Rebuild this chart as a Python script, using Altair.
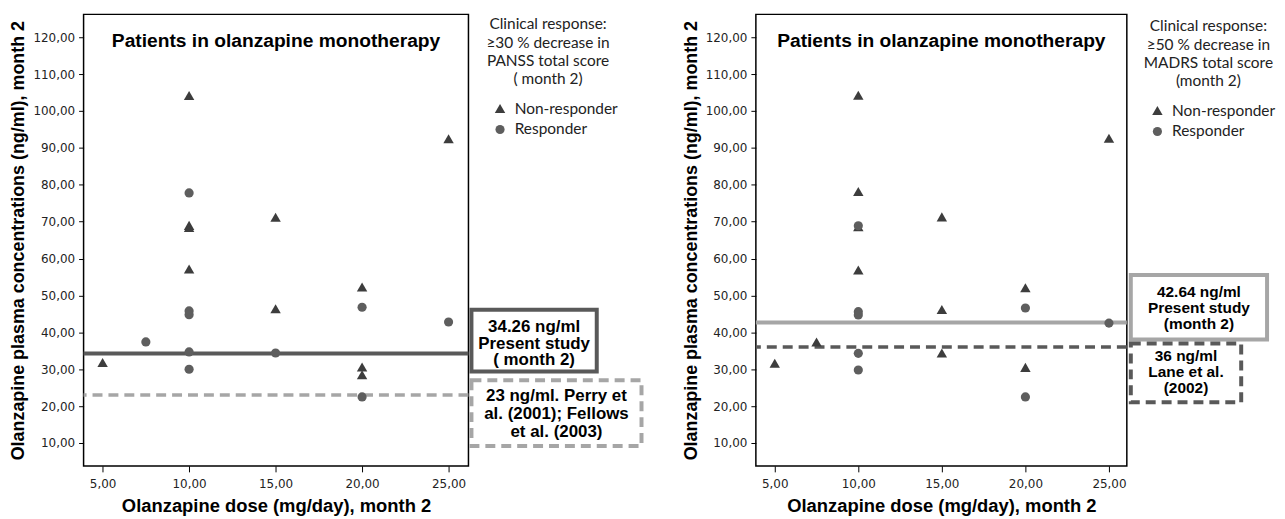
import altair as alt
import pandas as pd

# ---- data ----
responses = ["Non-responder", "Responder"]

left_dose = [5, 10, 10, 10, 10, 15, 15, 20, 20, 20, 25,
             7.5, 10, 10, 10, 10, 10, 15, 20, 20, 25]
left_conc = [31.8, 104.2, 69.0, 68.4, 57.2, 71.2, 46.4, 52.3, 30.6, 28.5, 92.5,
             37.4, 77.8, 45.8, 44.8, 34.7, 30.0, 34.4, 46.8, 22.5, 42.8]
left_resp = ["Non-responder"] * 11 + ["Responder"] * 10

right_dose = [5, 7.5, 10, 10, 10, 10, 15, 15, 15, 20, 20, 25,
              10, 10, 10, 10, 10, 20, 20, 25]
right_conc = [31.6, 37.4, 104.3, 78.2, 68.6, 56.9, 71.3, 46.2, 34.4, 52.1, 30.5, 92.6,
              68.9, 45.6, 44.7, 34.3, 29.8, 46.6, 22.5, 42.5]
right_resp = ["Non-responder"] * 12 + ["Responder"] * 8

x_ticks = [5, 10, 15, 20, 25]
y_ticks = [10, 20, 30, 40, 50, 60, 70, 80, 90, 100, 110, 120]

left_legend_title = ["Clinical response:", "≥30 % decrease in", "PANSS total score", "( month 2)"]
right_legend_title = ["Clinical response:", "≥50 % decrease in", "MADRS total score", "(month  2)"]

left_present = 34.26
left_reference = 23
right_present = 42.64
right_reference = 36

left_present_text = ["34.26 ng/ml", "Present study", "( month 2)"]
left_reference_text = ["23 ng/ml. Perry et", "al. (2001); Fellows", "et al. (2003)"]
right_present_text = ["42.64 ng/ml", "Present study", "(month 2)"]
right_reference_text = ["36 ng/ml", "Lane et al.", "(2002)"]

panel_title = "Patients in olanzapine monotherapy"
x_title = "Olanzapine dose (mg/day), month 2"
y_title = "Olanzapine plasma concentrations (ng/ml), month 2"

DARK = "#595959"
LIGHT = "#a6a6a6"
H = 454
LABEL_EXPR = "replace(format(datum.value, '.2f'), '.', ',')"


def box(x0, x1, y0, y1, color, dashed, lines, fs, lh, first_y):
    one = alt.Data(values=[{"k": 1}])
    kw = dict(fill="white", stroke=color, strokeWidth=4)
    if dashed:
        kw["strokeDash"] = [10, 6]
    r = alt.Chart(one).mark_rect(**kw).encode(
        x=alt.value(x0), x2=alt.value(x1), y=alt.value(y0), y2=alt.value(y1))
    t = alt.Chart(one).mark_text(
        text=lines, align="center", baseline="middle", font="Liberation Sans",
        fontWeight="bold", fontSize=fs, lineHeight=lh, color="black"
    ).encode(x=alt.value((x0 + x1) / 2), y=alt.value(first_y))
    return r + t


def panel(dose, conc, resp, W, xdom, legend_title, legx, legy, symoff,
          present, present_color, reference, reference_color, boxes):
    df = pd.DataFrame({"dose": dose, "conc": conc, "resp": resp})
    x_enc = alt.X("dose:Q", scale=alt.Scale(domain=xdom, nice=False, zero=False),
                  axis=alt.Axis(values=x_ticks, title=x_title, labelExpr=LABEL_EXPR,
                                grid=False, domain=False, tickSize=6, tickColor="black",
                                labelFont="DejaVu Sans", labelFontSize=12, labelColor="#222",
                                labelPadding=7, titleFont="Liberation Sans", titleFontSize=18.5,
                                titleFontWeight="bold", titleColor="black", titlePadding=7))
    y_enc = alt.Y("conc:Q", scale=alt.Scale(domain=[3.8, 126.2], nice=False, zero=False),
                  axis=alt.Axis(values=y_ticks, title=y_title, labelExpr=LABEL_EXPR,
                                grid=False, domain=False, tickSize=5, tickColor="black",
                                labelFont="DejaVu Sans", labelFontSize=12, labelColor="#222",
                                labelPadding=4, titleFont="Liberation Sans", titleFontSize=18,
                                titleFontWeight="bold", titleColor="black", titlePadding=5))
    legend = alt.Legend(orient="none", legendX=legx, legendY=legy,
                        title=legend_title, titleAnchor="middle",
                        titleAlign="center", titleFont="Lato",
                        titleFontSize=15.5, titleFontWeight="normal",
                        titleColor="#222", titleLineHeight=18.5,
                        titlePadding=13, labelFont="Lato", labelFontSize=15.5,
                        labelColor="#222", symbolSize=75, symbolStrokeWidth=0,
                        symbolOffset=symoff, rowPadding=4, labelOffset=7, padding=0)
    pts = alt.Chart(df).mark_point(filled=True, opacity=1).encode(
        x=x_enc, y=y_enc,
        color=alt.Color("resp:N", scale=alt.Scale(domain=responses, range=["#3d3d3d", "#5e5e5e"]),
                        legend=legend),
        shape=alt.Shape("resp:N", scale=alt.Scale(domain=responses, range=["triangle-up", "circle"]),
                        legend=legend),
        size=alt.Size("resp:N", scale=alt.Scale(domain=responses, range=[110, 85]), legend=None),
    )
    rule_p = alt.Chart(pd.DataFrame({"v": [present]})).mark_rule(
        color=present_color, strokeWidth=4).encode(y=alt.Y("v:Q"))
    rule_r = alt.Chart(pd.DataFrame({"v": [reference]})).mark_rule(
        color=reference_color, strokeWidth=3.5, strokeDash=[10, 6]).encode(y=alt.Y("v:Q"))
    title = alt.Chart(alt.Data(values=[{"k": 1}])).mark_text(
        text=panel_title, font="Liberation Sans", fontWeight="bold", fontSize=19.3,
        color="black", align="center", baseline="middle"
    ).encode(x=alt.value(W / 2), y=alt.value(27))
    layers = [rule_r, rule_p, pts, title] + boxes
    return alt.layer(*layers).properties(width=W, height=H)


left = panel(left_dose, left_conc, left_resp, 387, [3.9, 26.15], left_legend_title, 397, 3, 14,
             left_present, DARK, left_reference, LIGHT,
             [box(390, 516, 297, 359, DARK, False, left_present_text, 17, 17, 314),
              box(390, 561, 368, 434, LIGHT, True, left_reference_text, 17, 18, 384)])

right = panel(right_dose, right_conc, right_resp, 373, [3.87, 26.07], right_legend_title, 387, 5, 9,
              right_present, LIGHT, right_reference, DARK,
              [box(377, 514, 262, 327, LIGHT, False, right_present_text, 15.5, 16, 279),
               box(377, 488, 331, 390, DARK, True, right_reference_text, 15.5, 16, 344)])

chart = alt.hconcat(left, right, spacing=289, bounds="flush").resolve_scale(
    color="independent", shape="independent", size="independent",
    x="independent", y="independent"
).properties(
    padding={"left": 1, "top": 4, "right": 0, "bottom": 0}
).configure_view(stroke="black", strokeWidth=1.5)

chart.save("out.html", embed_options={"renderer": "svg", "actions": False})
